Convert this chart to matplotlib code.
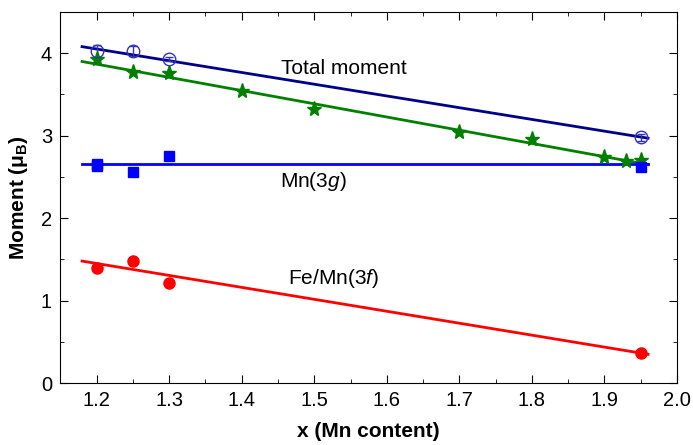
import matplotlib
matplotlib.use("Agg")
import matplotlib.pyplot as plt
from matplotlib.ticker import MultipleLocator, FormatStrFormatter

plt.rcParams["font.family"] = ["Liberation Sans", "DejaVu Sans"]
plt.rcParams["mathtext.fontset"] = "custom"
plt.rcParams["mathtext.rm"] = "Liberation Sans"
plt.rcParams["mathtext.it"] = "Liberation Sans:italic"
plt.rcParams["mathtext.bf"] = "Liberation Sans:bold"

# measured points
x_total = [1.20, 1.25, 1.30, 1.95]
y_total = [4.03, 4.03, 3.93, 2.98]
err_total = [0.07, 0.06, 0.03, 0.04]

x_star = [1.20, 1.25, 1.30, 1.40, 1.50, 1.70, 1.80, 1.90, 1.93, 1.95]
y_star = [3.93, 3.77, 3.76, 3.54, 3.33, 3.05, 2.96, 2.74, 2.69, 2.70]

x_mn3g = [1.20, 1.20, 1.25, 1.30, 1.95]
y_mn3g = [2.63, 2.66, 2.56, 2.75, 2.62]

x_fe3f = [1.20, 1.25, 1.30, 1.95]
y_fe3f = [1.40, 1.48, 1.21, 0.37]

# fitted lines (end points)
fit_x = [1.18, 1.96]
fit_total = [4.08, 2.97]
fit_star = [3.90, 2.65]
fit_mn3g = [2.66, 2.66]
fit_fe3f = [1.48, 0.35]

fig = plt.figure(figsize=(6.93, 4.45), dpi=100)
ax = fig.add_axes([0.087, 0.139, 0.890, 0.834])

ax.plot(fit_x, fit_total, color="#00008B", lw=2)
ax.plot(fit_x, fit_star, color="#008000", lw=2)
ax.plot(fit_x, fit_mn3g, color="#0000FF", lw=2)
ax.plot(fit_x, fit_fe3f, color="#FF0000", lw=2)

ax.errorbar(x_total, y_total, yerr=err_total, fmt="o", ms=9, mfc="none",
            mec="#3333BB", ecolor="#3333BB", mew=1, elinewidth=1, capsize=3)
ax.plot(x_star, y_star, "*", color="#008000", ms=11)
ax.plot(x_mn3g, y_mn3g, "s", color="#0000FF", ms=7)
ax.plot(x_fe3f, y_fe3f, "o", color="#FF0000", ms=8)

ax.text(1.541, 3.82, "Total moment", fontsize=15, ha="center", va="center")
ax.text(1.499, 2.44, "Mn(3$\\mathit{g}$)", fontsize=15, ha="center", va="center")
ax.text(1.527, 1.27, "Fe/Mn(3$\\mathit{f}$)", fontsize=15, ha="center", va="center")

ax.set_xlim(1.15, 2.0)
ax.set_ylim(0, 4.5)
ax.xaxis.set_major_locator(MultipleLocator(0.1))
ax.xaxis.set_minor_locator(MultipleLocator(0.05))
ax.yaxis.set_major_locator(MultipleLocator(1))
ax.yaxis.set_minor_locator(MultipleLocator(0.5))
ax.tick_params(which="both", direction="in", top=True, right=True, labelsize=14.5)
ax.tick_params(which="major", length=6, pad=6)
ax.tick_params(which="minor", length=3)
ax.xaxis.set_major_formatter(FormatStrFormatter("%.1f"))

ax.set_xlabel("x (Mn content)", fontsize=15, fontweight="bold", labelpad=8)
ax.set_ylabel("Moment ($\\mathbf{\\mu_B}$)", fontsize=15, fontweight="bold", labelpad=8)

fig.savefig("out.png", dpi=100)
